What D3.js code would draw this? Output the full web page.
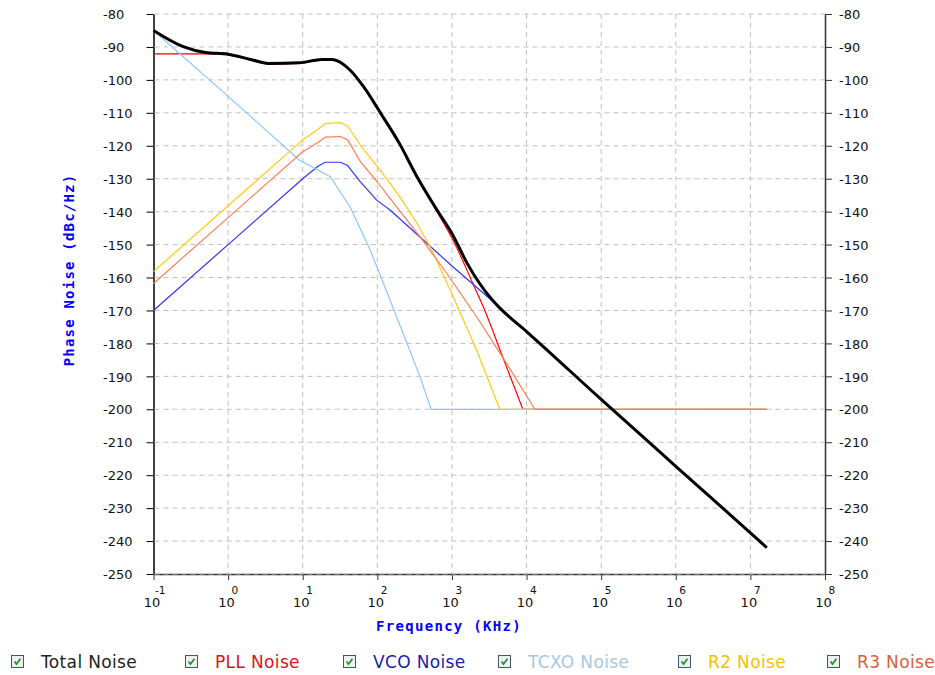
<!DOCTYPE html>
<html>
<head>
<meta charset="utf-8">
<script src="https://cdn.jsdelivr.net/npm/d3@7"></script>
<style>
    body { margin: 0; background: #fff; }
    svg { display: block; }
</style>
</head>
<body>
<div id="chart"></div>
<script>
// frequency in KHz, phase noise in dBc/Hz
const totalNoise = [[0.1, -85], [0.25, -89.9], [0.5, -91.7], [1, -92.2], [2, -93.8], [3.5, -95], [9, -94.8],
    [18, -93.8], [25, -93.8], [43, -97], [65, -102], [110, -110], [200, -119.5], [340, -129.4], [630, -139.5],
    [1000, -146.6], [1600, -155.7], [3500, -166.9], [4400, -169.3], [10000, -176.4], [1e5, -197], [1e6, -217.3],
    [1e7, -237.5], [1.66e7, -242]];
const pllNoise = [[0.1, -92.1], [0.5, -92.1], [1, -92.4], [2, -94], [3.5, -95.2], [9, -95], [18, -94],
    [25, -94], [43, -97.2], [65, -102.2], [110, -110.2], [200, -119.7], [340, -129.6], [630, -140],
    [1000, -148], [1900, -161.7], [2630, -168.9], [5010, -185.3], [8700, -199.4], [8900, -200], [1.66e7, -200]];
const vcoNoise = [[0.1, -170], [1, -150], [10, -130], [16, -126.2], [20, -125], [32, -125], [40, -126],
    [59, -130.9], [98, -136.5], [148, -139.5], [457, -149.5], [1000, -156.5], [3550, -167.3], [10000, -176.5],
    [1e5, -197], [1e6, -217.3], [1e7, -237.5], [1.66e7, -242]];
const tcxoNoise = [[0.1, -85], [1, -105], [9, -124.3], [23.4, -129.4], [43, -138.5], [80, -151.6],
    [148, -166.8], [372, -190], [525, -200], [1.66e7, -200]];
const r2Noise = [[0.1, -158.2], [1, -138.2], [10, -118.2], [16, -115], [20, -113.3], [32, -113], [40, -114],
    [60, -120], [100, -126.3], [148, -131.4], [200, -135.5], [340, -143.5], [537, -151.6], [1000, -165],
    [2140, -182], [4370, -200], [1.66e7, -200]];
const r3Noise = [[0.1, -161.8], [1, -141.8], [10, -121.8], [16, -119], [20, -117.4], [32, -117.2], [40, -118.2],
    [60, -125], [100, -131], [148, -136], [372, -147.6], [850, -158.7], [2140, -171.9], [5370, -186],
    [12900, -200], [1.66e7, -200]];

const yTicks = d3.range(-250, -79, 10);
const xTicks = [0.1, 1, 10, 100, 1e3, 1e4, 1e5, 1e6, 1e7, 1e8];
const xExponents = ['-1', '0', '1', '2', '3', '4', '5', '6', '7', '8'];

const seriesNames = ['Total Noise', 'PLL Noise', 'VCO Noise', 'TCXO Noise', 'R2 Noise', 'R3 Noise'];
const seriesData = [totalNoise, pllNoise, vcoNoise, tcxoNoise, r2Noise, r3Noise];
const lineColors = ['#000000', '#ff0000', '#3333ff', '#8cc6ff', '#ffcc11', '#ff7f55'];
const legendColors = ['#222222', '#dd1122', '#1c1ca8', '#a9c6e2', '#f2c200', '#d9603c'];
// total and pll are smooth, the rest are drawn straight between points
const smoothSeries = [true, true, false, false, false, false];

const width = 935;
const height = 675;
const plotLeft = 153.5, plotRight = 825, plotTop = 14, plotBottom = 574;

const svg = d3.select('#chart').append('svg')
    .attr('width', width)
    .attr('height', height);

const x = d3.scaleLog().domain([0.1, 1e8]).range([plotLeft, plotRight]);
const y = d3.scaleLinear().domain([-250, -80]).range([plotBottom, plotTop]);

const tickFont = '13px "DejaVu Sans", Verdana, sans-serif';

// left axis
const leftAxis = svg.append('g')
    .attr('transform', 'translate(' + plotLeft + ',0)')
    .call(d3.axisLeft(y).tickValues(yTicks).tickSize(7).tickSizeOuter(0).tickFormat(d => d));
leftAxis.select('.domain').attr('stroke', '#000').attr('stroke-width', 1.5);
leftAxis.selectAll('.tick line').attr('stroke', '#000');
leftAxis.selectAll('.tick text')
    .attr('text-anchor', 'start')
    .attr('x', 103 - plotLeft)
    .attr('dy', '0.36em')
    .style('font', tickFont)
    .attr('fill', '#111');

// right axis
const rightAxis = svg.append('g')
    .attr('transform', 'translate(' + plotRight + ',0)')
    .call(d3.axisRight(y).tickValues(yTicks).tickSize(7).tickSizeOuter(0).tickFormat(d => d));
rightAxis.select('.domain').attr('stroke', '#333').attr('stroke-width', 1.5);
rightAxis.selectAll('.tick line').attr('stroke', '#333');
rightAxis.selectAll('.tick text')
    .attr('x', 14)
    .attr('dy', '0.36em')
    .style('font', tickFont)
    .attr('fill', '#111');

// bottom axis
const bottomAxis = svg.append('g')
    .attr('transform', 'translate(0,' + plotBottom + ')')
    .call(d3.axisBottom(x).tickValues(xTicks).tickSize(6).tickSizeOuter(0).tickFormat(''));
bottomAxis.select('.domain').attr('stroke', '#333').attr('stroke-width', 1.5);
bottomAxis.selectAll('.tick line').attr('stroke', '#333');
bottomAxis.selectAll('.tick').each(function(d, i) {
    const g = d3.select(this);
    g.append('text')
        .attr('x', -2)
        .attr('y', 33)
        .attr('text-anchor', 'middle')
        .attr('fill', '#111')
        .style('font', tickFont)
        .text('10');
    g.append('text')
        .attr('x', xExponents[i].length > 1 ? 1 : 3)
        .attr('y', 19.5)
        .attr('text-anchor', 'start')
        .attr('fill', '#111')
        .style('font', '10.5px "DejaVu Sans", Verdana, sans-serif')
        .text(xExponents[i]);
});

// grid
const grid = svg.append('g').attr('stroke', '#c0c0c0').attr('stroke-dasharray', '5,4');
grid.selectAll('.hgrid')
    .data(yTicks)
    .enter()
    .append('line')
    .attr('x1', plotLeft + 1)
    .attr('x2', plotRight)
    .attr('y1', d => y(d))
    .attr('y2', d => y(d));
grid.selectAll('.vgrid')
    .data(xTicks.slice(1, -1))
    .enter()
    .append('line')
    .attr('x1', d => x(d))
    .attr('x2', d => x(d))
    .attr('y1', plotTop)
    .attr('y2', plotBottom);

// curves, total drawn last so it sits on top
const line = d3.line()
    .x(d => x(d[0]))
    .y(d => y(d[1]));
const order = [1, 2, 3, 4, 5, 0];
order.forEach(i => {
    svg.append('path')
        .datum(seriesData[i])
        .attr('fill', 'none')
        .attr('stroke', lineColors[i])
        .attr('stroke-width', i === 0 ? 3 : 1.2)
        .attr('stroke-linejoin', 'round')
        .attr('d', line.curve(smoothSeries[i] ? d3.curveMonotoneX : d3.curveLinear));
});

// axis titles
const titleFont = 'bold 14px "DejaVu Sans Mono", "Courier New", monospace';
svg.append('text')
    .attr('x', 449)
    .attr('y', 631)
    .attr('text-anchor', 'middle')
    .attr('fill', '#0000ff')
    .style('font', titleFont)
    .style('letter-spacing', '1.3px')
    .text('Frequency (KHz)');
svg.append('text')
    .attr('transform', 'translate(74,270) rotate(-90)')
    .attr('text-anchor', 'middle')
    .attr('fill', '#0000ff')
    .style('font', titleFont)
    .style('letter-spacing', '1.2px')
    .text('Phase Noise (dBc/Hz)');

// legend
const legendBoxX = [11, 185, 343, 498, 678, 827];
const legend = svg.append('g');
seriesNames.forEach((name, i) => {
    const item = legend.append('g').attr('transform', 'translate(' + legendBoxX[i] + ',655)');
    item.append('rect')
        .attr('x', 0.5)
        .attr('y', 0.5)
        .attr('width', 12)
        .attr('height', 12)
        .attr('fill', '#eef0f2')
        .attr('stroke', '#3e5870');
    item.append('path')
        .attr('d', 'M3.5,6.5 L5.5,9 L9.5,3.8')
        .attr('fill', 'none')
        .attr('stroke', '#1f9a2a')
        .attr('stroke-width', 1.8);
    item.append('text')
        .attr('x', 30)
        .attr('y', 12.5)
        .attr('fill', legendColors[i])
        .style('font', '17px "DejaVu Sans", Verdana, sans-serif')
        .style('letter-spacing', '0.35px')
        .text(name);
});
</script>
</body>
</html>
